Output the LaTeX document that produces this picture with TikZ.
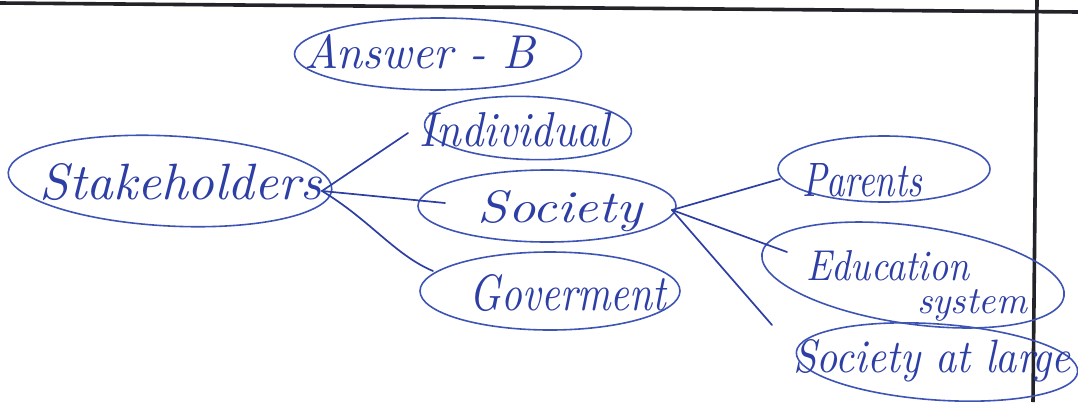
\documentclass[tikz,border=0pt]{standalone}
\usetikzlibrary{shapes.geometric}
\definecolor{ink}{RGB}{45,62,165}
\definecolor{inkl}{RGB}{62,84,180}
\definecolor{frame}{RGB}{35,35,42}
\tikzset{
  ell/.style={ellipse, draw=inkl, line width=1.6pt, inner sep=0pt},
  lbl/.style={text=ink, inner sep=0pt},
  conn/.style={draw=ink, line width=1.7pt, line cap=round},
  rule/.style={draw=frame, line width=3.6pt}
}
\newcommand{\hw}[3]{\resizebox{#1pt}{#2pt}{\itshape #3}}
\begin{document}
\begin{tikzpicture}[x=1pt,y=-1pt]
\useasboundingbox (0,0) rectangle (1078,402);
% page rules
\coordinate (tl) at (0,3);
\coordinate (tr) at (1078,12);
\coordinate (vt) at (1037,0);
\coordinate (vb) at (1033,402);
\draw[rule] (tl) -- (tr);
\draw[rule] (vt) -- (vb);
% ellipses
\node[ell, minimum width=287pt, minimum height=72pt] (ansE) at (438,54) {};
\node[ell, minimum width=207pt, minimum height=63pt, rotate=-2] (indE) at (528,128) {};
\node[ell, minimum width=324pt, minimum height=90pt, rotate=-3] (stkE) at (170,181) {};
\node[ell, minimum width=258pt, minimum height=72pt] (socE) at (547,206) {};
\node[ell, minimum width=260pt, minimum height=78pt] (govE) at (550,291) {};
\node[ell, minimum width=212pt, minimum height=66pt] (parE) at (884,169) {};
\node[ell, minimum width=305pt, minimum height=98pt, rotate=-8] (eduE) at (913,275) {};
\node[ell, minimum width=282pt, minimum height=76pt, rotate=-4] (salE) at (937,362) {};
% labels
\node[lbl, anchor=base] (ans) at (420,68) {\hw{230}{34}{Answer - B}};
\node[lbl, anchor=base] (ind) at (515,146) {\hw{190}{34}{Individual}};
\node[lbl, anchor=base] (stk) at (181,199) {\hw{282}{36}{Stakeholders}};
\node[lbl, anchor=base] (soc) at (560,222) {\hw{164}{32}{Society}};
\node[lbl, anchor=base] (gov) at (568,310) {\hw{196}{36}{Goverment}};
\node[lbl, anchor=base] (par) at (862,196) {\hw{120}{33}{Parents}};
\node[lbl, anchor=base] (edu1) at (888,280) {\hw{163}{30}{Education}};
\node[lbl, anchor=base] (edu2) at (972,313) {\hw{110}{24}{system}};
\node[lbl, anchor=base] (sal) at (932,372) {\hw{277}{33}{Society at large}};
% connector ends
\coordinate (hubS) at (322,191);
\coordinate (eInd) at (408,133);
\coordinate (eSoc) at (445,203);
\coordinate (eGov) at (433,271);
\coordinate (hubT) at (672,210);
\coordinate (ePar) at (780,179);
\coordinate (eEdu) at (787,252);
\coordinate (eSal) at (772,325);
\draw[conn] (hubS) -- (eInd);
\draw[conn] (hubS) -- (eSoc);
\draw[conn] (hubS) .. controls (370,220) and (395,255) .. (eGov);
\draw[conn] (hubT) -- (ePar);
\draw[conn] (hubT) -- (eEdu);
\draw[conn] (hubT) -- (eSal);
\end{tikzpicture}
\end{document}
